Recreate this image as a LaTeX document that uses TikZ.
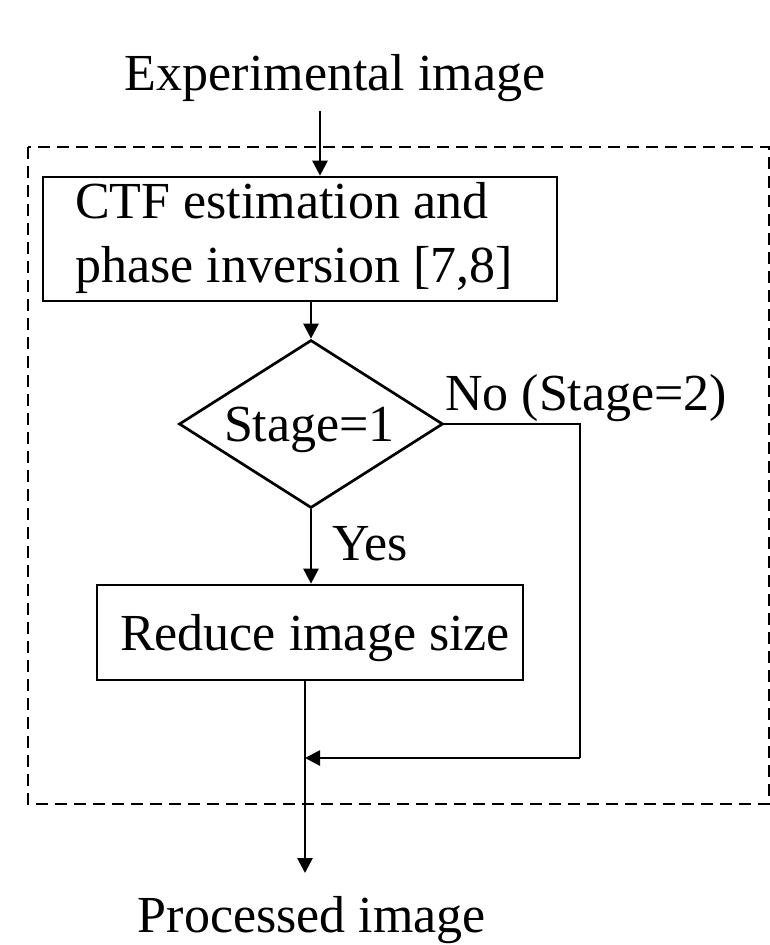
\documentclass[tikz,border=0pt]{standalone}
\usepackage{fontspec}
\setmainfont{Liberation Serif}
\usetikzlibrary{arrows.meta,shapes.geometric}

\begin{document}
\begin{tikzpicture}[x=1pt,y=-1pt,
  every node/.style={font=\fontsize{52}{64}\selectfont, inner sep=0pt},
  line/.style={line width=2.7pt},
  arr/.style={line, -{Triangle[length=15pt,width=15pt]}},
  procbox/.style={draw, line width=2.7pt},
  decision/.style={draw, diamond, line width=2.7pt, aspect=1.57,
    minimum width=264pt, minimum height=168pt},
  frame/.style={line width=2.5pt, dash pattern=on 12pt off 7pt}
]
\useasboundingbox (0,0) rectangle (770,945);

% dashed enclosure
\draw[frame] (28,147) rectangle (769,804);

% texts outside the enclosure
\node[anchor=base] (exp) at (335,90) {Experimental image};
\node[anchor=base] (proc) at (312,932) {Processed image};

% boxes
\node[procbox, minimum width=514pt, minimum height=124pt] (ctf) at (300,239) {};
\node[anchor=base west, align=left] (ctft) at (75,282)
      {CTF estimation and\\phase inversion [7,8]};
\node[decision] (dia) at (311,424) {};
\node[anchor=base] (stg) at (309.5,441) {Stage=1};
\node[procbox, minimum width=426pt, minimum height=95pt] (red) at (310,632.5) {};
\node[anchor=base] (redt) at (315,650) {Reduce image size};

% labels
\node[anchor=base west] (no) at (445,410) {No (Stage=2)};
\node[anchor=base west] (yes) at (332,560) {Yes};

% helper points
\coordinate (in) at (320,111);
\coordinate (turn) at (580,424);
\coordinate (merge) at (305,758);
\coordinate (outtip) at (305,873);

% connectors
\draw[arr] (in) -- (in |- ctf.north);
\draw[arr] (ctf.south -| dia.north) -- (dia.north);
\draw[arr] (dia.south) -- (dia.south |- red.north);
\draw[line] (dia.east) -- (turn) -- (turn |- merge);
\draw[arr] (turn |- merge) -- (merge);
\draw[arr] (red.south -| merge) -- (outtip);
\end{tikzpicture}
\end{document}
